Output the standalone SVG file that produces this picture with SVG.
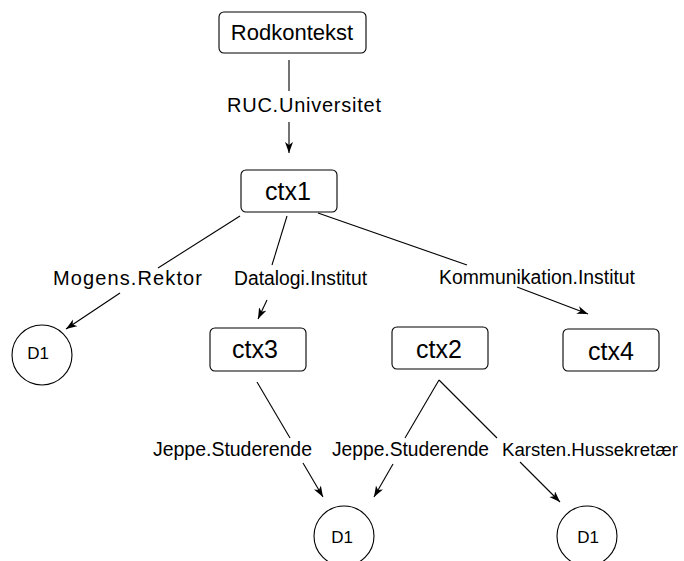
<svg xmlns="http://www.w3.org/2000/svg" width="684" height="561" viewBox="0 0 684 561">
  <style>
    .box { fill: #fff; stroke: #000; stroke-width: 1.1; }
    .circ { fill: #fff; stroke: #000; stroke-width: 1.1; }
    .edge { fill: none; stroke: #000; stroke-width: 1.1; }
    .name { font-family: "Liberation Sans", Arial, sans-serif; fill: #000; text-anchor: middle; }
    .lbl { font-family: "Liberation Sans", Arial, sans-serif; font-size: 20px; fill: #000; }
    .lbl.narrow { font-size: 18px; }
  </style>
  <defs>
    <marker id="arrow" markerUnits="userSpaceOnUse" markerWidth="12" markerHeight="10" refX="11" refY="4" orient="auto">
      <path d="M0,0 L11,4 L0,8 L3,4 Z" fill="#000"/>
    </marker>
  </defs>

  <!-- connectors, split around their labels -->
  <g id="connectors">
    <line class="edge" x1="289" y1="60" x2="289" y2="91"/>
    <line class="edge" x1="289" y1="122" x2="289" y2="153" marker-end="url(#arrow)"/>

    <line class="edge" x1="240" y1="216" x2="158" y2="268"/>
    <line class="edge" x1="120" y1="293" x2="66" y2="329" marker-end="url(#arrow)"/>

    <line class="edge" x1="287" y1="216" x2="272" y2="265"/>
    <line class="edge" x1="267" y1="300" x2="258" y2="319" marker-end="url(#arrow)"/>

    <line class="edge" x1="318" y1="213" x2="467" y2="265"/>
    <line class="edge" x1="517" y1="287" x2="588" y2="314" marker-end="url(#arrow)"/>

    <line class="edge" x1="257" y1="382" x2="290" y2="438"/>
    <line class="edge" x1="303" y1="463" x2="323" y2="497" marker-end="url(#arrow)"/>

    <line class="edge" x1="439" y1="380" x2="405" y2="438"/>
    <line class="edge" x1="393" y1="464" x2="374" y2="497" marker-end="url(#arrow)"/>

    <line class="edge" x1="439" y1="380" x2="497" y2="438"/>
    <line class="edge" x1="520" y1="462" x2="560" y2="502" marker-end="url(#arrow)"/>

    <text class="lbl" x="227" y="112" textLength="154" lengthAdjust="spacing">RUC.Universitet</text>
    <text class="lbl" x="53" y="285" textLength="149" lengthAdjust="spacing">Mogens.Rektor</text>
    <text class="lbl" x="234" y="285" textLength="133" lengthAdjust="spacingAndGlyphs">Datalogi.Institut</text>
    <text class="lbl" x="439" y="284" textLength="196" lengthAdjust="spacingAndGlyphs">Kommunikation.Institut</text>
    <text class="lbl" x="153" y="456" textLength="159" lengthAdjust="spacingAndGlyphs">Jeppe.Studerende</text>
    <text class="lbl" x="332" y="456" textLength="157" lengthAdjust="spacingAndGlyphs">Jeppe.Studerende</text>
    <text class="lbl narrow" x="502" y="456" textLength="176" lengthAdjust="spacingAndGlyphs">Karsten.Hussekretær</text>
  </g>

  <g id="rodkontekst">
    <rect class="box" x="219" y="12" width="147" height="41" rx="5"/>
    <text class="name" x="292" y="40" font-size="22">Rodkontekst</text>
  </g>
  <g id="ctx1">
    <rect class="box" x="241" y="170" width="96" height="42" rx="5"/>
    <text class="name" x="288" y="200" font-size="25">ctx1</text>
  </g>
  <g id="ctx3">
    <rect class="box" x="210" y="328" width="96" height="43" rx="5"/>
    <text class="name" x="255" y="358" font-size="25">ctx3</text>
  </g>
  <g id="ctx2">
    <rect class="box" x="392" y="327" width="96" height="42" rx="5"/>
    <text class="name" x="439" y="358" font-size="25">ctx2</text>
  </g>
  <g id="ctx4">
    <rect class="box" x="563" y="329" width="96" height="42" rx="5"/>
    <text class="name" x="611" y="360" font-size="25">ctx4</text>
  </g>
  <g id="d1-rektor">
    <circle class="circ" cx="42" cy="355" r="30"/>
    <text class="name" x="38" y="359" font-size="17">D1</text>
  </g>
  <g id="d1-ctx3">
    <circle class="circ" cx="344" cy="536" r="30"/>
    <text class="name" x="342" y="543" font-size="17">D1</text>
  </g>
  <g id="d1-ctx2">
    <circle class="circ" cx="587" cy="536" r="30"/>
    <text class="name" x="588" y="543" font-size="17">D1</text>
  </g>
</svg>
